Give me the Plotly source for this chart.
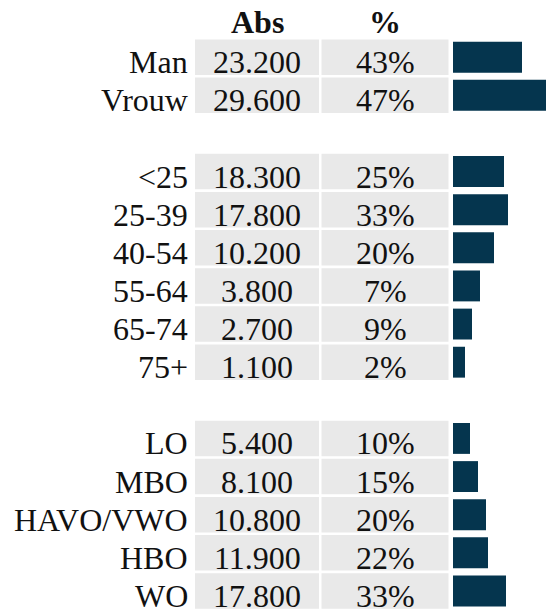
import plotly.graph_objects as go

# ---- data -------------------------------------------------------------
group_gender = ["Man", "Vrouw"]
group_age = ["<25", "25-39", "40-54", "55-64", "65-74", "75+"]
group_edu = ["LO", "MBO", "HAVO/VWO", "HBO", "WO"]

abs_gender = [23200, 29600]
abs_age = [18300, 17800, 10200, 3800, 2700, 1100]
abs_edu = [5400, 8100, 10800, 11900, 17800]

pct_gender = [43, 47]
pct_age = [25, 33, 20, 7, 9, 2]
pct_edu = [10, 15, 20, 22, 33]

bar_gender = [69, 93]
bar_age = [51, 55, 41, 27, 19, 12]
bar_edu = [17, 25, 33, 35, 53]

headers = ["Abs", "%"]

# ---- layout constants ---------------------------------------------------
W, H = 551, 610
FONT = "Liberation Serif"
TEXT_COLOR = "#111111"
CELL_COLOR = "#e9e9e9"
BAR_COLOR = "#05354e"
FS = 32

# table columns in pixel-like units on the table axis
ABS_COL = (0, 124)
PCT_COL = (126.5, 127)

groups = [
    (group_gender, abs_gender, pct_gender, bar_gender),
    (group_age, abs_age, pct_age, bar_age),
    (group_edu, abs_edu, pct_edu, bar_edu),
]

# row 0 holds the header, groups are separated by one empty row
rows, labels, abs_vals, pct_vals, bar_vals = [], [], [], [], []
r = 1
for names, a, p, b in groups:
    for i, name in enumerate(names):
        rows.append(r)
        labels.append(name)
        abs_vals.append(a[i])
        pct_vals.append(p[i])
        bar_vals.append(b[i])
        r += 1
    r += 1
last_row = rows[-1]


def fmt_thousands(v):
    return f"{v:,}".replace(",", ".")


fig = go.Figure()

# grey table cells
for col in (ABS_COL, PCT_COL):
    fig.add_trace(go.Bar(
        orientation="h", y=rows, x=[col[1]] * len(rows), base=col[0],
        width=0.93, marker=dict(color=CELL_COLOR, line=dict(width=0)),
        xaxis="x", yaxis="y", hoverinfo="skip", showlegend=False,
    ))

# bars
fig.add_trace(go.Bar(
    orientation="h", y=rows, x=bar_vals,
    width=0.81, marker=dict(color=BAR_COLOR, line=dict(width=0)),
    xaxis="x2", yaxis="y", hoverinfo="skip", showlegend=False,
))

annotations = []
text_font = dict(family=FONT, size=FS, color=TEXT_COLOR)
abs_center = ABS_COL[0] + ABS_COL[1] / 2
pct_center = PCT_COL[0] + PCT_COL[1] / 2
DY = -5

for y, lab, a, p in zip(rows, labels, abs_vals, pct_vals):
    annotations.append(dict(
        xref="x domain", yref="y", x=0, y=y, text=lab, showarrow=False,
        xanchor="right", yanchor="middle", xshift=-5, yshift=DY, font=text_font,
    ))
    annotations.append(dict(
        xref="x", yref="y", x=abs_center, y=y, text=fmt_thousands(a),
        showarrow=False, xanchor="center", yanchor="middle", yshift=DY,
        font=text_font,
    ))
    annotations.append(dict(
        xref="x", yref="y", x=pct_center, y=y, text=f"{p}%",
        showarrow=False, xanchor="center", yanchor="middle", yshift=DY,
        font=text_font,
    ))

for xc, h in zip((abs_center, pct_center), headers):
    annotations.append(dict(
        xref="x", yref="y", x=xc, y=0, text=f"<b>{h}</b>", showarrow=False,
        xanchor="center", yanchor="middle", yshift=-3, font=text_font,
    ))

fig.update_layout(
    width=W, height=H,
    margin=dict(l=0, r=0, t=0, b=0),
    paper_bgcolor="white", plot_bgcolor="white",
    barmode="overlay",
    xaxis=dict(domain=[195 / W, 450 / W], range=[0, 255], visible=False,
               fixedrange=True),
    xaxis2=dict(domain=[453 / W, 1], range=[0, 98], visible=False,
                fixedrange=True, anchor="y"),
    yaxis=dict(range=[last_row + 0.5, -0.5], visible=False, fixedrange=True),
    annotations=annotations,
    showlegend=False,
)

fig.write_html("out.html")
